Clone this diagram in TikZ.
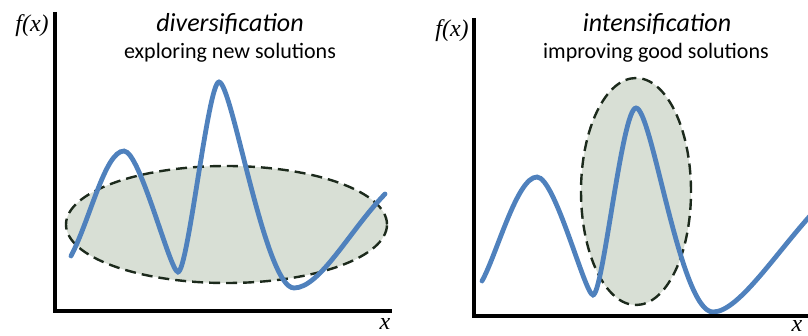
\documentclass[tikz,border=0pt]{standalone}
\usepackage{fontspec}
\newfontfamily\serfont{Liberation Serif}
\newfontfamily\calfont{Carlito}
\usetikzlibrary{shapes.geometric}
\definecolor{curveBLU}{HTML}{4F81BD}
\definecolor{regFILL}{HTML}{D8DFD5}
\definecolor{regLINE}{HTML}{1C2A1C}
\begin{document}
\begin{tikzpicture}[x=1pt, y=1pt,
  axis/.style={line width=3.2pt},
  fcurve/.style={curveBLU, line width=4.8pt, line cap=round},
  region/.style={ellipse, draw=regLINE, fill=regFILL, line width=2.4pt,
                 dash pattern=on 11pt off 6pt, inner sep=0pt},
  ttl/.style={font=\calfont\itshape\fontsize{26}{30}\selectfont},
  sub/.style={font=\calfont\fontsize{22}{26}\selectfont},
  lbl/.style={font=\serfont\itshape\fontsize{24}{28}\selectfont, inner sep=0pt}]
\clip (0,0) rectangle (808,335);
% left panel: diversification
\node[ttl] (divT) at (230,311) {diversification};
\node[sub] (divS) at (230,282) {exploring new solutions};
\node[region, minimum width=321pt, minimum height=117pt] (divR) at (226.5,110.5) {};
\draw[fcurve] (71,79) .. controls (90,115) and (105,184) .. (124,184)
  .. controls (140,184) and (170,63) .. (178,63)
  .. controls (188,63) and (208,253) .. (219,253)
  .. controls (232,253) and (265,47) .. (294,47)
  .. controls (320,47) and (350,105) .. (385,141);
\draw[axis] (55,323) -- (55,24) -- (392,24);
\node[lbl] (divY) at (32,309) {f(x)};
\node[lbl, anchor=base] (divX) at (385,6) {x};
% right panel: intensification
\node[ttl] (intT) at (657,311) {intensification};
\node[sub] (intS) at (656,282) {improving good solutions};
\node[region, minimum width=110pt, minimum height=227pt] (intR) at (636,143.5) {};
\draw[fcurve] (482,54) .. controls (497,81) and (517,158) .. (537,158)
  .. controls (555,158) and (585,40) .. (593,40)
  .. controls (603,40) and (622,227) .. (636,227)
  .. controls (652,227) and (680,23) .. (713,23)
  .. controls (740,23) and (780,89) .. (822,132);
\draw[axis] (474,317) -- (474,19) -- (812,19);
\node[lbl] (intY) at (452,304) {f(x)};
\node[lbl, anchor=base] (intX) at (797,4) {x};
\end{tikzpicture}
\end{document}
